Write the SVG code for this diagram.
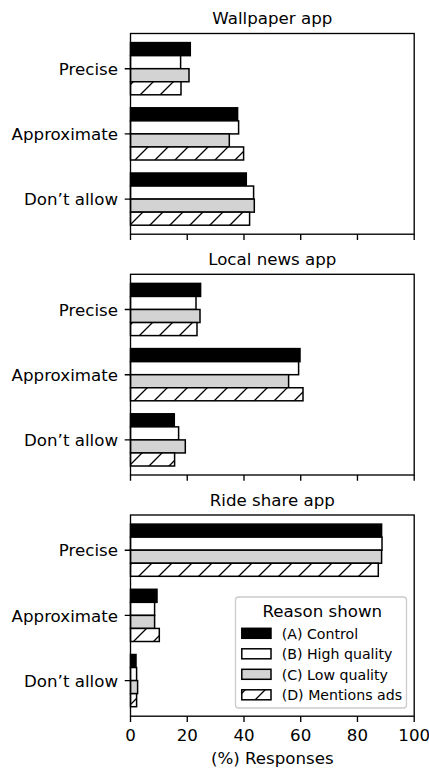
<svg xmlns="http://www.w3.org/2000/svg" width="429" height="770" viewBox="0 0 429 770">
<style>
text{font-family:"DejaVu Sans","Liberation Sans",sans-serif;fill:#000}
.t{font-size:16.67px}
.tt{font-size:16.67px;text-anchor:middle}
.yl{font-size:16.67px;text-anchor:end}
.xl{font-size:16.67px;text-anchor:middle}
.lg{font-size:14.17px}
.frame{fill:none;stroke:#000;stroke-width:1.35}
.tick{stroke:#000;stroke-width:1.35}
.a{fill:#000;stroke:#000;stroke-width:1.5}
.b{fill:#fff;stroke:#000;stroke-width:1.5}
.c{fill:#d3d3d3;stroke:#000;stroke-width:1.5}
.d{fill:url(#hatch);stroke:#000;stroke-width:1.5}
</style>
<defs>
<pattern id="hatch" patternUnits="userSpaceOnUse" width="20" height="20" x="15" y="0">
<rect width="20" height="20" fill="#fff"/>
<path d="M0,20L20,0M-2,2L2,-2M18,22L22,18" stroke="#000" stroke-width="1.3"/>
</pattern>
</defs>
<rect width="429" height="770" fill="#fff"/>

<g id="panel-wallpaper">
<text class="tt" x="272.3" y="24">Wallpaper app</text>
<g id="bars-wallpaper">
<rect class="a" x="130.5" y="42.6" width="59.8" height="13.05"/>
<rect class="a" x="130.5" y="107.8" width="107.1" height="13.05"/>
<rect class="a" x="130.5" y="173" width="115.8" height="13.05"/>
<rect class="b" x="130.5" y="55.65" width="50.1" height="13.05"/>
<rect class="b" x="130.5" y="120.85" width="108.1" height="13.05"/>
<rect class="b" x="130.5" y="186.05" width="123.1" height="13.05"/>
<rect class="c" x="130.5" y="68.7" width="58.5" height="13.05"/>
<rect class="c" x="130.5" y="133.9" width="98.8" height="13.05"/>
<rect class="c" x="130.5" y="199.1" width="123.8" height="13.05"/>
<rect class="d" x="130.5" y="81.75" width="50.5" height="13.05"/>
<rect class="d" x="130.5" y="146.95" width="113.1" height="13.05"/>
<rect class="d" x="130.5" y="212.15" width="119.1" height="13.05"/>
</g>
<rect class="frame" x="130.5" y="33.5" width="283.7" height="200.7"/>
<path class="tick" d="M124.7,68.7H130.5M124.7,133.9H130.5M124.7,199.1H130.5M130.5,234.2V240M187.24,234.2V240M243.98,234.2V240M300.72,234.2V240M357.46,234.2V240M414.2,234.2V240"/>
<text class="yl" x="118" y="74.8">Precise</text>
<text class="yl" x="118" y="140">Approximate</text>
<text class="yl" x="118" y="205.2">Don’t allow</text>
</g>

<g id="panel-localnews">
<text class="tt" x="272.3" y="264.6">Local news app</text>
<g id="bars-localnews">
<rect class="a" x="130.5" y="283.4" width="70.1" height="13.05"/>
<rect class="a" x="130.5" y="348.6" width="169.5" height="13.05"/>
<rect class="a" x="130.5" y="413.8" width="43.8" height="13.05"/>
<rect class="b" x="130.5" y="296.45" width="65.5" height="13.05"/>
<rect class="b" x="130.5" y="361.65" width="168.1" height="13.05"/>
<rect class="b" x="130.5" y="426.85" width="48.1" height="13.05"/>
<rect class="c" x="130.5" y="309.5" width="69.5" height="13.05"/>
<rect class="c" x="130.5" y="374.7" width="158.1" height="13.05"/>
<rect class="c" x="130.5" y="439.9" width="54.8" height="13.05"/>
<rect class="d" x="130.5" y="322.55" width="66.5" height="13.05"/>
<rect class="d" x="130.5" y="387.75" width="172.5" height="13.05"/>
<rect class="d" x="130.5" y="452.95" width="44.1" height="13.05"/>
</g>
<rect class="frame" x="130.5" y="274.3" width="283.7" height="200.7"/>
<path class="tick" d="M124.7,309.5H130.5M124.7,374.7H130.5M124.7,439.9H130.5M130.5,475V480.8M187.24,475V480.8M243.98,475V480.8M300.72,475V480.8M357.46,475V480.8M414.2,475V480.8"/>
<text class="yl" x="118" y="315.6">Precise</text>
<text class="yl" x="118" y="380.8">Approximate</text>
<text class="yl" x="118" y="446">Don’t allow</text>
</g>

<g id="panel-rideshare">
<text class="tt" x="272.3" y="505.5">Ride share app</text>
<g id="bars-rideshare">
<rect class="a" x="130.5" y="524.1" width="251.1" height="13.05"/>
<rect class="a" x="130.5" y="589.3" width="26.5" height="13.05"/>
<rect class="a" x="130.5" y="654.5" width="5.5" height="13.05"/>
<rect class="b" x="130.5" y="537.15" width="251.5" height="13.05"/>
<rect class="b" x="130.5" y="602.35" width="24.1" height="13.05"/>
<rect class="b" x="130.5" y="667.55" width="6.1" height="13.05"/>
<rect class="c" x="130.5" y="550.2" width="251.1" height="13.05"/>
<rect class="c" x="130.5" y="615.4" width="24.1" height="13.05"/>
<rect class="c" x="130.5" y="680.6" width="7.1" height="13.05"/>
<rect class="d" x="130.5" y="563.25" width="247.8" height="13.05"/>
<rect class="d" x="130.5" y="628.45" width="28.8" height="13.05"/>
<rect class="d" x="130.5" y="693.65" width="6.1" height="13.05"/>
</g>
<rect class="frame" x="130.5" y="515" width="283.7" height="201.2"/>
<path class="tick" d="M124.7,550.2H130.5M124.7,615.4H130.5M124.7,680.6H130.5M130.5,716.2V722M187.24,716.2V722M243.98,716.2V722M300.72,716.2V722M357.46,716.2V722M414.2,716.2V722"/>
<text class="yl" x="118" y="556.3">Precise</text>
<text class="yl" x="118" y="621.5">Approximate</text>
<text class="yl" x="118" y="686.7">Don’t allow</text>
<text class="xl" x="130.5" y="741">0</text>
<text class="xl" x="187.24" y="741">20</text>
<text class="xl" x="243.98" y="741">40</text>
<text class="xl" x="300.72" y="741">60</text>
<text class="xl" x="357.46" y="741">80</text>
<text class="xl" x="414.2" y="741">100</text>
<text class="xl" x="272.3" y="764">(%) Responses</text>
</g>

<g id="legend">
<rect x="235.5" y="597" width="171" height="111" rx="3" fill="#fff" fill-opacity="0.8" stroke="#ccc" stroke-width="1.3"/>
<text class="tt" x="322.3" y="617">Reason shown</text>
<rect class="a" x="241.8" y="628.3" width="29.2" height="10"/>
<rect class="b" x="241.8" y="648.8" width="29.2" height="10"/>
<rect class="c" x="241.8" y="669.3" width="29.2" height="10"/>
<rect class="d" x="241.8" y="689.8" width="29.2" height="10"/>
<text class="lg" x="281.7" y="638.5">(A) Control</text>
<text class="lg" x="281.7" y="659">(B) High quality</text>
<text class="lg" x="281.7" y="679.5">(C) Low quality</text>
<text class="lg" x="281.7" y="700">(D) Mentions ads</text>
</g>
</svg>
